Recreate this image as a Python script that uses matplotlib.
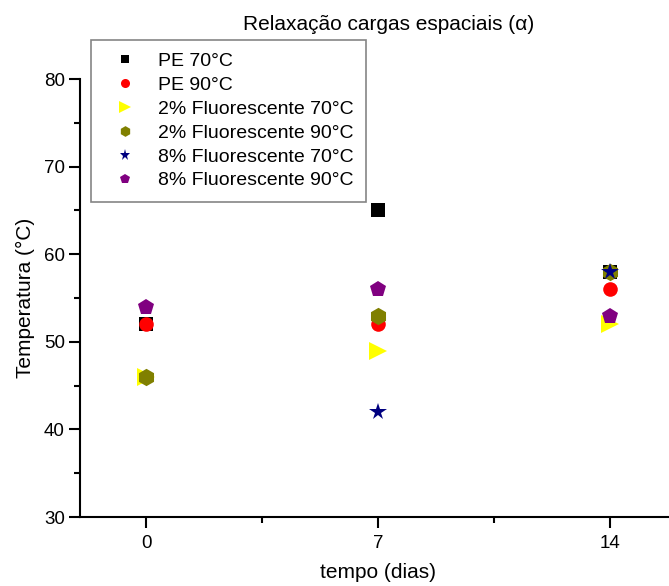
import numpy as np
import matplotlib
matplotlib.use("Agg")
import matplotlib.pyplot as plt
from matplotlib.ticker import MultipleLocator

plt.rcParams['font.family'] = ['Liberation Sans', 'DejaVu Sans']

days = [0, 7, 14]
pe_70 = [52, 65, 58]
pe_90 = [52, 52, 56]
fl2_70 = [46, 49, 52]
fl2_90 = [46, 53, 58]
fl8_70 = [np.nan, 42, 58]
fl8_90 = [54, 56, 53]

series = [
    ("PE 70°C", pe_70, "s", "#000000", 9.5),
    ("PE 90°C", pe_90, "o", "#ff0000", 10.5),
    ("2% Fluorescente 70°C", fl2_70, ">", "#ffff00", 13),
    ("2% Fluorescente 90°C", fl2_90, "h", "#808000", 12.5),
    ("8% Fluorescente 70°C", fl8_70, "*", "#000080", 13),
    ("8% Fluorescente 90°C", fl8_90, "p", "#800080", 12),
]

fig = plt.figure(figsize=(6.69, 5.86), dpi=100)
ax = fig.add_axes([80 / 669, 1 - 517 / 586, 596 / 669, (517 - 79) / 586])

for label, vals, mk, col, ms in series:
    ax.plot(days, vals, linestyle="none", marker=mk, color=col,
            markersize=ms, markeredgewidth=0, label=label)

ax.set_xlim(-2, 16)
ax.set_ylim(30, 80)
ax.set_xticks([0, 7, 14])
ax.xaxis.set_minor_locator(MultipleLocator(3.5))
ax.yaxis.set_major_locator(MultipleLocator(10))
ax.yaxis.set_minor_locator(MultipleLocator(5))

for s in ("top", "right"):
    ax.spines[s].set_visible(False)
for s in ("left", "bottom"):
    ax.spines[s].set_linewidth(1.5)

ax.tick_params(which="major", direction="out", length=8, width=1.5, labelsize=13.5)
ax.tick_params(which="minor", direction="out", length=4, width=1.5)
ax.tick_params(axis="x", pad=5)
ax.tick_params(axis="y", pad=3)

ax.set_xlabel("tempo (dias)", fontsize=15, labelpad=8)
ax.set_ylabel("Temperatura (°C)", fontsize=15, labelpad=6)

fig.text(389 / 669, 1 - 25 / 586, "Relaxação cargas espaciais (α)",
         ha="center", va="center", fontsize=15)

leg = ax.legend(loc="upper left", bbox_to_anchor=((91 - 80) / 596, (517 - 40) / 438),
                frameon=True, fancybox=False, edgecolor="#666666",
                fontsize=14, markerscale=0.62, handletextpad=0.6,
                labelspacing=0.32, borderpad=0.65, handlelength=2.2,
                borderaxespad=0)
leg.get_frame().set_linewidth(1.2)

fig.savefig("out.png", dpi=100)
